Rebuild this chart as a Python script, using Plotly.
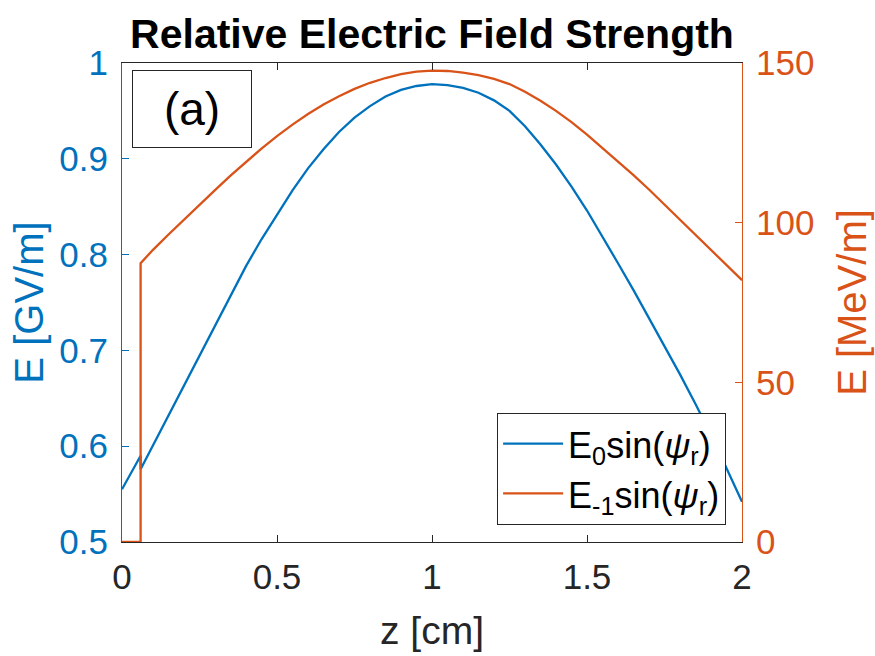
import plotly.graph_objects as go

# ---- data ----
z_e0 = [0.00, 0.06, 0.06, 0.10, 0.15, 0.20, 0.25, 0.30, 0.35, 0.40, 0.45, 0.50,
        0.55, 0.60, 0.65, 0.70, 0.75, 0.80, 0.85, 0.90, 0.95, 1.00, 1.05, 1.10,
        1.15, 1.20, 1.25, 1.30, 1.35, 1.40, 1.45, 1.50, 1.55, 1.60, 1.65, 1.70,
        1.75, 1.80, 1.85, 1.90, 1.95, 2.00]
e0_gv = [0.555, 0.590, 0.576, 0.601, 0.632, 0.664, 0.695, 0.727, 0.758, 0.788,
         0.816, 0.842, 0.867, 0.890, 0.910, 0.928, 0.943, 0.955, 0.965, 0.972,
         0.976, 0.978, 0.977, 0.974, 0.969, 0.961, 0.950, 0.934, 0.915, 0.894,
         0.871, 0.846, 0.819, 0.791, 0.763, 0.734, 0.705, 0.675, 0.644, 0.612,
         0.577, 0.542]

z_em1 = [0.00, 0.06, 0.06, 0.10, 0.15, 0.20, 0.25, 0.30, 0.35, 0.40, 0.45, 0.50,
         0.55, 0.60, 0.65, 0.70, 0.75, 0.80, 0.85, 0.90, 0.95, 1.00, 1.05, 1.10,
         1.15, 1.20, 1.25, 1.30, 1.35, 1.40, 1.45, 1.50, 1.55, 1.60, 1.65, 1.70,
         1.75, 1.80, 1.85, 1.90, 1.95, 2.00]
em1_mev = [0.0, 0.0, 87.3, 91.5, 96.3, 101.0, 105.6, 110.2, 114.7, 119.1, 123.2,
           127.1, 130.7, 134.0, 137.0, 139.6, 141.9, 143.8, 145.3, 146.5, 147.3,
           147.6, 147.5, 147.0, 146.2, 145.0, 143.4, 141.0, 138.2, 135.0, 131.5,
           127.6, 123.4, 119.2, 114.9, 110.4, 105.7, 100.9, 96.1, 91.3, 86.6, 82.0]

x_ticks = [0, 0.5, 1, 1.5, 2]
x_ticktext = ["0", "0.5", "1", "1.5", "2"]
y1_ticks = [0.5, 0.6, 0.7, 0.8, 0.9, 1.0]
y1_ticktext = ["0.5", "0.6", "0.7", "0.8", "0.9", "1"]
y2_ticks = [0, 50, 100, 150]
y2_ticktext = ["0", "50", "100", "150"]

BLUE = "#0072BD"
ORANGE = "#D95319"
DARK = "#262626"
FONT = "Liberation Sans, Arial, Helvetica, sans-serif"

fig = go.Figure()
fig.add_trace(go.Scatter(
    x=z_e0, y=e0_gv, mode="lines", name="E<sub>0</sub>sin(<i>ψ</i><sub>r</sub>)",
    line=dict(color=BLUE, width=2.3), yaxis="y"))
fig.add_trace(go.Scatter(
    x=z_em1, y=em1_mev, mode="lines", name="E<sub>-1</sub>sin(<i>ψ</i><sub>r</sub>)",
    line=dict(color=ORANGE, width=2.3), yaxis="y2"))

fig.update_layout(
    width=875, height=656,
    margin=dict(l=122, r=133, t=63, b=114, autoexpand=False),
    paper_bgcolor="white", plot_bgcolor="white",
    font=dict(family=FONT, size=35, color=DARK),
    title=dict(text="<b>Relative Electric Field Strength</b>",
               x=0.5, xref="paper", xanchor="center",
               y=1 - 33.6 / 656, yref="container", yanchor="middle",
               font=dict(size=41, color="black", family=FONT)),
    xaxis=dict(range=[0, 2], tickvals=x_ticks, ticktext=x_ticktext,
               showline=True, linecolor=DARK, linewidth=1, mirror="ticks",
               ticks="inside", ticklen=7, tickcolor=DARK, showgrid=False,
               zeroline=False, tickfont=dict(size=35, color=DARK),
               ticklabelstandoff=4,
               title=dict(text="z [cm]", font=dict(size=39, color=DARK), standoff=21)),
    yaxis=dict(range=[0.5, 1], tickvals=y1_ticks, ticktext=y1_ticktext,
               showline=True, linecolor=BLUE, linewidth=1,
               ticks="inside", ticklen=7, tickcolor=BLUE, showgrid=False,
               zeroline=False, tickfont=dict(size=35, color=BLUE),
               ticklabelstandoff=6,
               title=dict(text="E [GV/m]", font=dict(size=40, color=BLUE), standoff=3)),
    yaxis2=dict(range=[0, 150], tickvals=y2_ticks, ticktext=y2_ticktext,
                overlaying="y", side="right", anchor="x",
                showline=True, linecolor=ORANGE, linewidth=1,
                ticks="inside", ticklen=7, tickcolor=ORANGE, showgrid=False,
                zeroline=False, tickfont=dict(size=35, color=ORANGE),
                ticklabelstandoff=6,
                title=dict(text="E [MeV/m]", font=dict(size=40, color=ORANGE), standoff=24)),
    legend=dict(x=0.605, xanchor="left", y=0.036, yanchor="bottom",
                xref="paper", yref="paper",
                bgcolor="white", bordercolor=DARK, borderwidth=1,
                font=dict(size=36, color="black", family=FONT),
                itemwidth=60, traceorder="normal"),
    showlegend=True,
    annotations=[dict(text="(a)", x=0.113, y=0.905, xref="paper", yref="paper",
                      xanchor="center", yanchor="middle", showarrow=False,
                      width=118, height=76, borderpad=0,
                      bordercolor=DARK, borderwidth=1, bgcolor="white",
                      font=dict(size=46, color="black", family=FONT))],
)

fig.write_html("out.html", config={"displayModeBar": False},
               post_script="document.body.style.margin='0';")
